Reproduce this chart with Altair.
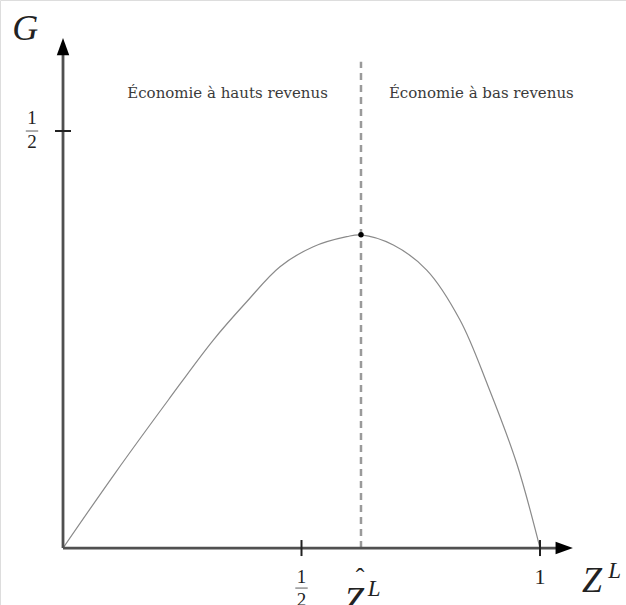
import altair as alt
import pandas as pd

# Gini curve G(Z^L) over the low-income share Z^L
curve_x = [0.0, 0.109, 0.2208, 0.3151, 0.3851, 0.4549, 0.5247, 0.5948, 0.6247,
           0.6925, 0.7625, 0.8323, 0.8916, 0.9511, 1.0]
curve_y = [0.0, 0.0896, 0.1775, 0.2494, 0.2953, 0.3373, 0.3613, 0.3733, 0.3755,
           0.3633, 0.3333, 0.2734, 0.1934, 0.1016, 0.0]

# Threshold between the two regimes
z_hat = 0.6247
g_max = 0.3755

# Axis extents (data units)
x_min, x_max = -0.1321, 1.1803
y_min, y_max = -0.0683, 0.6571
x_arrow_tip = 1.069
y_arrow_tip = 0.6115
dash_top = 0.583

x_ticks = [0.5, 1.0]
y_ticks = [0.5]

W, H = 626, 605
xs = alt.Scale(domain=[x_min, x_max], nice=False, zero=False)
ys = alt.Scale(domain=[y_min, y_max], nice=False, zero=False)
X = lambda f: alt.X(f, type="quantitative", scale=xs, axis=None)
Y = lambda f: alt.Y(f, type="quantitative", scale=ys, axis=None)

curve_df = pd.DataFrame({"x": curve_x, "y": curve_y})

curve = alt.Chart(curve_df).mark_line(
    color="#8a8a8a", strokeWidth=1.2, interpolate="catmull-rom"
).encode(x=X("x"), y=Y("y"))

dash = alt.Chart(pd.DataFrame({"x": [z_hat], "y": [0.0], "y2": [dash_top]})).mark_rule(
    color="#9a9a9a", strokeWidth=2.5, strokeDash=[7, 5]
).encode(x=X("x"), y=Y("y"), y2="y2")

peak = alt.Chart(pd.DataFrame({"x": [z_hat], "y": [g_max]})).mark_point(
    filled=True, color="black", size=30, opacity=1
).encode(x=X("x"), y=Y("y"))

# Axis lines
x_axis = alt.Chart(pd.DataFrame({"x": [0.0], "x2": [x_arrow_tip - 0.02], "y": [0.0]})).mark_rule(
    color="#505050", strokeWidth=2.8
).encode(x=X("x"), x2="x2", y=Y("y"))
y_axis = alt.Chart(pd.DataFrame({"x": [0.0], "y": [0.0], "y2": [y_arrow_tip - 0.012]})).mark_rule(
    color="#505050", strokeWidth=2.8
).encode(x=X("x"), y=Y("y"), y2="y2")

# Arrowheads
x_head = alt.Chart(pd.DataFrame({"x": [x_arrow_tip], "y": [0.0]})).mark_point(
    shape="M0,0L-1,-0.36L-1,0.36Z", filled=True, color="black", size=1200, opacity=1
).encode(x=X("x"), y=Y("y"))
y_head = alt.Chart(pd.DataFrame({"x": [0.0], "y": [y_arrow_tip]})).mark_point(
    shape="M0,0L0.36,1L-0.36,1Z", filled=True, color="black", size=1200, opacity=1
).encode(x=X("x"), y=Y("y"))

# Tick marks
xt = alt.Chart(pd.DataFrame({"x": x_ticks, "y": [-0.0096] * 2, "y2": [0.0096] * 2})).mark_rule(
    color="#222222", strokeWidth=2
).encode(x=X("x"), y=Y("y"), y2="y2")
yt = alt.Chart(pd.DataFrame({"x": [-0.0168], "x2": [0.0168], "y": y_ticks})).mark_rule(
    color="#222222", strokeWidth=2
).encode(x=X("x"), x2="x2", y=Y("y"))

serif = "Liberation Serif"

def label(df, size, italic=False, baseline="middle", align="center", color="#222222", font=serif):
    return alt.Chart(pd.DataFrame(df)).mark_text(
        font=font, fontSize=size, fontStyle="italic" if italic else "normal",
        baseline=baseline, align=align, color=color
    ).encode(x=X("x"), y=Y("y"), text="t:N")

# Fractions 1/2
frac_num = label({"x": [-0.065, 0.5], "y": [0.516, -0.035], "t": ["1", "1"]}, 19)
frac_den = label({"x": [-0.065, 0.5], "y": [0.487, -0.062], "t": ["2", "2"]}, 19)
frac_bar = alt.Chart(pd.DataFrame({"x": [-0.078, 0.487], "x2": [-0.052, 0.513],
                                   "y": [0.5, -0.048]})).mark_rule(
    color="#333333", strokeWidth=0.8
).encode(x=X("x"), x2="x2", y=Y("y"))

one = label({"x": [1.0], "y": [-0.035], "t": ["1"]}, 22)

# Axis titles
g_title = label({"x": [-0.079], "y": [0.609], "t": ["G"]}, 36, italic=True, baseline="alphabetic")
z_title = label({"x": [1.109], "y": [-0.053], "t": ["Z"]}, 36, italic=True, baseline="alphabetic")
z_sup = label({"x": [1.143], "y": [-0.036], "t": ["L"]}, 23, italic=True, baseline="alphabetic", align="left")

zh = label({"x": [0.61], "y": [-0.077], "t": ["Z"]}, 36, italic=True, baseline="alphabetic")
zh_hat = label({"x": [0.623], "y": [-0.036], "t": ["ˆ"]}, 26, baseline="middle")
zh_sup = label({"x": [0.639], "y": [-0.057], "t": ["L"]}, 23, italic=True, baseline="alphabetic", align="left")

# Regime labels
regimes = label({"x": [0.345, 0.877], "y": [0.5396, 0.5396],
                 "t": ["Économie à hauts revenus", "Économie à bas revenus"]},
                15, baseline="alphabetic", color="#3a3a3a", font="DejaVu Serif")

chart = alt.layer(
    dash, curve, x_axis, y_axis, xt, yt, x_head, y_head, peak,
    frac_num, frac_den, frac_bar, one, g_title, z_title, z_sup,
    zh, zh_hat, zh_sup, regimes
).properties(
    width=W, height=H, padding=0, autosize=alt.AutoSizeParams(type="none")
).configure_view(stroke=None).configure(background="white")

chart.save("out.html", embed_options={"renderer": "svg", "actions": False})
